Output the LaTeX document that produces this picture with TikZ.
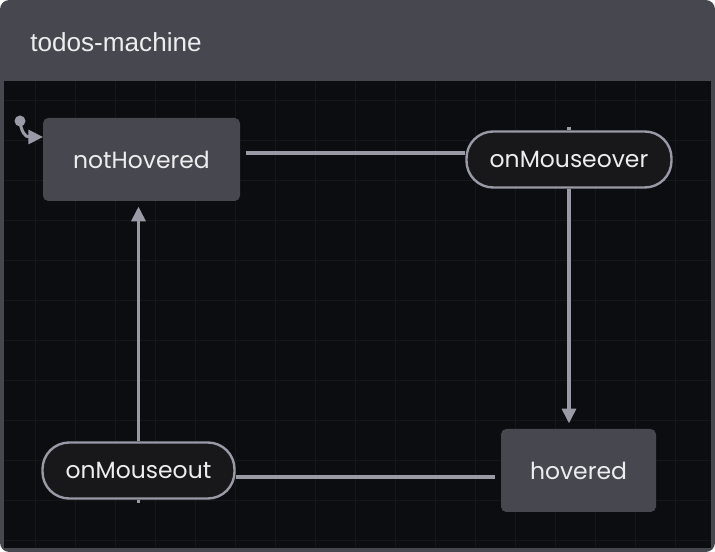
\documentclass[tikz,border=0pt]{standalone}
\usepackage{fontspec}
\setmainfont{Poppins}
\newfontfamily\titlefont{Liberation Sans}
\usetikzlibrary{arrows.meta}
\definecolor{frame}{HTML}{47474F}
\definecolor{canvas}{HTML}{0C0D10}
\definecolor{gridc}{HTML}{16171B}
\definecolor{edge}{HTML}{9A99A6}
\definecolor{pillfill}{HTML}{18181B}
\definecolor{txt}{HTML}{EDEDEF}
\tikzset{
  statebox/.style={draw=none, fill=frame, rounded corners=4pt, text=txt, inner sep=0pt, font=\fontsize{17.6}{20}\selectfont},
  pill/.style={draw=edge, line width=1.8pt, fill=pillfill, rounded corners=20pt, text=txt, inner sep=0pt, font=\fontsize{17.6}{20}\selectfont},
  conn/.style={draw=edge, line width=2.3pt},
  tip/.style={-{Triangle[length=11pt,width=10.5pt]}},
}
\begin{document}
\begin{tikzpicture}[x=0.75pt,y=-0.75pt]
\useasboundingbox (0,0) rectangle (715,552);
\fill[frame, rounded corners=7pt] (0,0) rectangle (715,552);
\fill[canvas] (4,81) rectangle (711,548);
\begin{scope}
\clip (4,81) rectangle (711,548);
\foreach \i in {0,...,17} {\draw[gridc, line width=0.6pt] (35+40*\i,81) -- (35+40*\i,548);}
\foreach \j in {0,...,11} {\draw[gridc, line width=0.6pt] (4,100+40*\j) -- (711,100+40*\j);}
\end{scope}
\node[anchor=base west, inner sep=0pt, text=txt, font=\titlefont\fontsize{19.6}{22}\selectfont] (title) at (30,52) {todos-machine};

\node[statebox, minimum width=197*0.75pt, minimum height=83*0.75pt] (nh) at (141.5,159.5) {notHovered};
\node[pill, minimum width=205*0.75pt, minimum height=56*0.75pt] (mo) at (569,159.5) {onMouseover};
\node[statebox, minimum width=155*0.75pt, minimum height=83*0.75pt] (hv) at (578.5,470.5) {hovered};
\node[pill, minimum width=192*0.75pt, minimum height=56*0.75pt] (mu) at (138.5,470.5) {onMouseout};

\fill[edge] (20,121) circle (5.5*0.75pt) coordinate (init);
\coordinate (nhin) at (43,137);
\draw[conn, tip] (init) .. controls (21,131) and (25,137) .. (nhin);

\draw[conn] ([xshift=4pt]nh.east |- 0,153) -- (mo.west |- 0,153);
\draw[conn] (mo.north) -- ++(0,-3);
\draw[conn, tip] (mo.south) -- ([yshift=4pt]hv.north -| mo.south);
\draw[conn] ([xshift=-4pt]hv.west |- 0,477) -- (mu.east |- 0,477);
\draw[conn] (mu.south) -- ++(0,3);
\draw[conn, tip] (mu.north) -- ([yshift=-4pt]nh.south -| mu.north);
\end{tikzpicture}
\end{document}
